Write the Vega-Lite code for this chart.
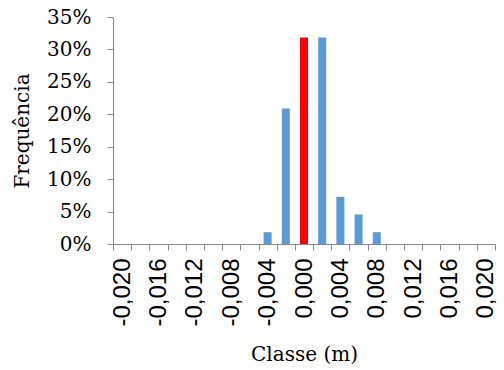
{
  "$schema": "https://vega.github.io/schema/vega-lite/v6.json",
  "autosize": "none",
  "width": 382,
  "height": 227,
  "padding": {"left": 113, "top": 17, "right": 9, "bottom": 126},
  "background": "white",
  "config": {"view": {"stroke": null}},
  "data": {"values": [
    {"classe": "-0,020", "freq": 0},
    {"classe": "-0,018", "freq": 0},
    {"classe": "-0,016", "freq": 0},
    {"classe": "-0,014", "freq": 0},
    {"classe": "-0,012", "freq": 0},
    {"classe": "-0,010", "freq": 0},
    {"classe": "-0,008", "freq": 0},
    {"classe": "-0,006", "freq": 0},
    {"classe": "-0,004", "freq": 0.0182},
    {"classe": "-0,002", "freq": 0.2091},
    {"classe": "0,000", "freq": 0.3182},
    {"classe": "0,002", "freq": 0.3182},
    {"classe": "0,004", "freq": 0.0727},
    {"classe": "0,006", "freq": 0.0455},
    {"classe": "0,008", "freq": 0.0182},
    {"classe": "0,010", "freq": 0},
    {"classe": "0,012", "freq": 0},
    {"classe": "0,014", "freq": 0},
    {"classe": "0,016", "freq": 0},
    {"classe": "0,018", "freq": 0},
    {"classe": "0,020", "freq": 0}
  ]},
  "mark": {"type": "bar", "width": {"band": 0.44}},
  "encoding": {
    "x": {
      "field": "classe", "type": "ordinal", "sort": null,
      "scale": {"paddingInner": 0, "paddingOuter": 0},
      "axis": {
        "title": "Classe (m)",
        "titleFont": "DejaVu Serif", "titleFontSize": 20, "titleFontWeight": "normal", "titleColor": "#000",
        "titlePadding": 18,
        "labelFont": "Liberation Sans", "labelFontSize": 24, "labelColor": "#000",
        "labelAngle": -90, "labelPadding": 8,
        "labelExpr": "round(datum.index * 20) % 2 == 0 ? datum.label : ''",
        "tickBand": "extent", "tickSize": 6, "tickColor": "#888888",
        "domainColor": "#888888", "grid": false, "labelOverlap": false
      }
    },
    "y": {
      "field": "freq", "type": "quantitative",
      "scale": {"domain": [0, 0.35], "nice": false},
      "axis": {
        "title": "Frequência",
        "titleFont": "DejaVu Serif", "titleFontSize": 20, "titleFontWeight": "normal", "titleColor": "#000",
        "titlePadding": 14,
        "labelFont": "DejaVu Serif", "labelFontSize": 20, "labelColor": "#000",
        "labelPadding": 16,
        "values": [0, 0.05, 0.1, 0.15, 0.2, 0.25, 0.3, 0.35],
        "format": ".0%",
        "tickSize": 6, "tickColor": "#888888",
        "domainColor": "#888888", "grid": false
      }
    },
    "color": {
      "condition": {"test": "datum.classe === '0,000'", "value": "#FF0000"},
      "value": "#5B9BD5"
    }
  }
}
